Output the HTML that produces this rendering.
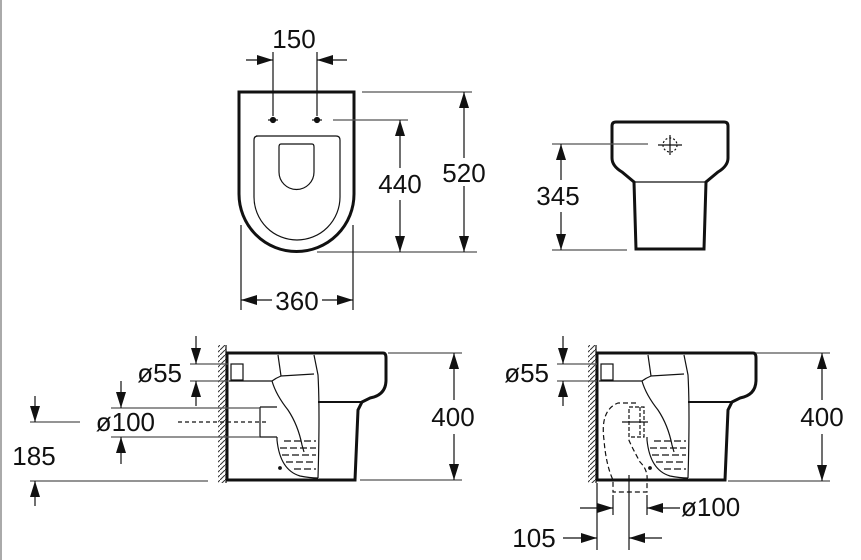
<!DOCTYPE html>
<html><head><meta charset="utf-8"><style>
html,body{margin:0;padding:0;background:#fff}
svg{display:block}
text{font-family:"Liberation Sans",sans-serif;font-size:26px;fill:#111}
</style></head><body>
<svg width="861" height="560" viewBox="0 0 861 560" xmlns="http://www.w3.org/2000/svg">
<defs>
<marker id="a" markerUnits="userSpaceOnUse" markerWidth="18" markerHeight="10" refX="16" refY="5" orient="auto"><path d="M0,0 L16,5 L0,10 Z" fill="#111"/></marker>
<pattern id="h" width="5" height="5" patternUnits="userSpaceOnUse"><path d="M0,5 L5,0" stroke="#333" stroke-width="1"/></pattern>
</defs>
<line x1="1" y1="0" x2="1" y2="560" stroke="#555" stroke-width="1"/>
<g fill="none" stroke="#111" stroke-width="1.2">
<path d="M239,92 H354 V194 A57.5,57.5 0 0 1 239,194 Z" stroke-width="3"/>
<path d="M256,136 H336 Q340,136 340,140 V197 A43,43 0 0 1 254,197 V140 Q254,136 258,136 Z"/>
<path d="M281,144 H312 Q314,144 314,147 V172 A16,16 0 0 1 279,172 V147 Q279,144 281,144 Z"/>
<circle cx="273" cy="120" r="2.5" fill="#111"/><circle cx="317" cy="120" r="2.5" fill="#111"/>
<line x1="268" y1="120" x2="278" y2="120"/><line x1="312" y1="120" x2="322" y2="120"/>
<line x1="273" y1="52" x2="273" y2="116"/><line x1="317" y1="52" x2="317" y2="116"/>
<line x1="246" y1="60" x2="273" y2="60" marker-end="url(#a)"/>
<line x1="347" y1="60" x2="317" y2="60" marker-end="url(#a)"/>
<line x1="333" y1="120" x2="408" y2="120" stroke="#555"/>
<line x1="362" y1="92" x2="472" y2="92" stroke="#555"/>
<line x1="317" y1="252" x2="477" y2="252" stroke="#555"/>
<line x1="400" y1="168" x2="400" y2="120" marker-end="url(#a)"/>
<line x1="400" y1="200" x2="400" y2="252" marker-end="url(#a)"/>
<line x1="464" y1="158" x2="464" y2="92" marker-end="url(#a)"/>
<line x1="464" y1="186" x2="464" y2="252" marker-end="url(#a)"/>
<line x1="241" y1="225" x2="241" y2="310"/><line x1="353" y1="225" x2="353" y2="310"/>
<line x1="272" y1="300" x2="241" y2="300" marker-end="url(#a)"/>
<line x1="322" y1="300" x2="353" y2="300" marker-end="url(#a)"/>
<path d="M616,122 H724 Q728,122 728,126 V158 Q728,166 718,172 L706,182 L704,249 H636 L634,182 L622,172 Q612,166 612,158 V126 Q612,122 616,122 Z" stroke-width="3"/>
<line x1="634" y1="182" x2="706" y2="182"/>
<circle cx="670" cy="145" r="7" stroke-dasharray="2,2"/>
<line x1="658" y1="145" x2="682" y2="145"/><line x1="670" y1="135" x2="670" y2="155"/>
<line x1="552" y1="144" x2="648" y2="144" stroke="#555"/>
<line x1="552" y1="250" x2="627" y2="250" stroke="#555"/>
<line x1="561" y1="180" x2="561" y2="144" marker-end="url(#a)"/>
<line x1="561" y1="212" x2="561" y2="250" marker-end="url(#a)"/>
</g>
<g id="side" fill="none" stroke="#111" stroke-width="1.2">
<rect x="218" y="345" width="8" height="138" fill="url(#h)" stroke="none"/>
<line x1="226" y1="345" x2="226" y2="483"/>
<path d="M227,353 H383 Q386,353 386,358 V380 Q386,395 370,398 L362,402 L358,410 L355,480 H227 Z" stroke-width="3"/>
<line x1="318" y1="402" x2="362" y2="402" stroke-width="2"/>
<path d="M278,355 L281,376 L314,374 M314,355 L318,375 Q320,410 318,478"/>
<path d="M229,381 H272 Q276,378 281,376"/>
<path d="M272,381 Q276,395 288,410 Q298,425 302,445 L304,452"/>
<rect x="231" y="364" width="12" height="16"/>
<path d="M277,437 V440 Q280,470 300,476 Q310,478 318,478"/>
<g stroke-dasharray="7,3"><line x1="284" y1="441" x2="316" y2="441"/><line x1="280" y1="448" x2="316" y2="448"/><line x1="282" y1="455" x2="316" y2="455"/><line x1="286" y1="462" x2="316" y2="462"/><line x1="294" y1="469" x2="316" y2="469"/></g>
<circle cx="280" cy="468" r="1.3" fill="#111"/>
</g>
<g fill="none" stroke="#111" stroke-width="1.2">
<path d="M260,407 H277 M260,407 V437 H277" />
<line x1="190" y1="364" x2="228" y2="364" stroke="#555"/><line x1="190" y1="381" x2="228" y2="381" stroke="#555"/>
<line x1="196" y1="336" x2="196" y2="364" marker-end="url(#a)"/>
<line x1="196" y1="406" x2="196" y2="381" marker-end="url(#a)"/>
<line x1="111" y1="408" x2="260" y2="408" stroke="#555"/><line x1="111" y1="437" x2="260" y2="437" stroke="#555"/>
<line x1="178" y1="422" x2="268" y2="422" stroke-dasharray="4,3"/>
<line x1="121" y1="381" x2="121" y2="408" marker-end="url(#a)"/>
<line x1="121" y1="464" x2="121" y2="437" marker-end="url(#a)"/>
<line x1="30" y1="422" x2="80" y2="422" stroke="#555"/>
<line x1="30" y1="481" x2="208" y2="481" stroke="#555"/>
<line x1="35" y1="396" x2="35" y2="422" marker-end="url(#a)"/>
<line x1="35" y1="506" x2="35" y2="481" marker-end="url(#a)"/>
<line x1="388" y1="353" x2="462" y2="353" stroke="#555"/><line x1="360" y1="480" x2="462" y2="480" stroke="#555"/>
<line x1="454" y1="400" x2="454" y2="353" marker-end="url(#a)"/>
<line x1="454" y1="434" x2="454" y2="480" marker-end="url(#a)"/>
</g>
<use href="#side" x="370" y="0"/>
<g fill="none" stroke="#111" stroke-width="1.2">
<path d="M629,407 H644 V437 H629 Z M640,407 V437" stroke-dasharray="4,2"/>
<line x1="622" y1="422" x2="648" y2="422"/>
<path d="M636,403 H618 Q600,410 604,440 Q606,465 613,480 V492 H647 V480 Q648,470 640,462 Q628,440 628,437" stroke-dasharray="5,3"/>
<line x1="557" y1="364" x2="597" y2="364" stroke="#555"/><line x1="557" y1="381" x2="597" y2="381" stroke="#555"/>
<line x1="563" y1="336" x2="563" y2="364" marker-end="url(#a)"/>
<line x1="563" y1="406" x2="563" y2="381" marker-end="url(#a)"/>
<line x1="756" y1="353" x2="830" y2="353" stroke="#555"/><line x1="728" y1="481" x2="830" y2="481" stroke="#555"/>
<line x1="822" y1="400" x2="822" y2="353" marker-end="url(#a)"/>
<line x1="822" y1="434" x2="822" y2="481" marker-end="url(#a)"/>
<line x1="597" y1="483" x2="597" y2="550"/><line x1="629" y1="475" x2="629" y2="550"/>
<line x1="613" y1="495" x2="613" y2="515"/><line x1="647" y1="495" x2="647" y2="515"/>
<line x1="580" y1="508" x2="613" y2="508" marker-end="url(#a)"/>
<line x1="680" y1="508" x2="647" y2="508" marker-end="url(#a)"/>
<line x1="563" y1="538" x2="597" y2="538" marker-end="url(#a)"/>
<line x1="662" y1="538" x2="629" y2="538" marker-end="url(#a)"/>
</g>
<g>
<text x="294" y="48" text-anchor="middle">150</text>
<text x="400" y="193" text-anchor="middle">440</text>
<text x="464" y="182" text-anchor="middle">520</text>
<text x="297" y="310" text-anchor="middle">360</text>
<text x="558" y="205" text-anchor="middle">345</text>
<text x="182" y="382" text-anchor="end">ø55</text>
<text x="155" y="431" text-anchor="end">ø100</text>
<text x="34" y="465" text-anchor="middle">185</text>
<text x="453" y="426" text-anchor="middle">400</text>
<text x="549" y="382" text-anchor="end">ø55</text>
<text x="822" y="426" text-anchor="middle">400</text>
<text x="681" y="516">ø100</text>
<text x="534" y="547" text-anchor="middle">105</text>
</g>
</svg>
</body></html>
